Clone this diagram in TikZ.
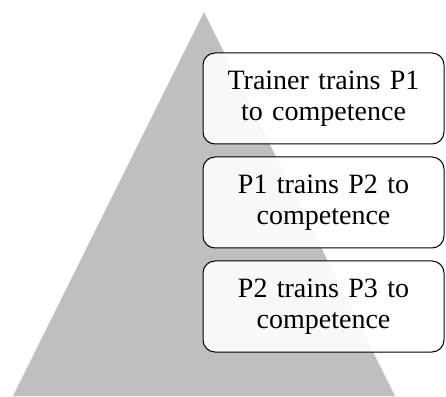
\documentclass[tikz,border=0pt]{standalone}
\usepackage{fontspec}
\setmainfont{Liberation Serif}
\usetikzlibrary{positioning}

\tikzset{
  stagebox/.style={draw=black,line width=1pt,rounded corners=12pt,
    fill=white,fill opacity=0.9,text opacity=1,
    minimum width=241pt,minimum height=91pt,text width=225pt,
    align=center,inner sep=2pt,outer sep=0pt}
}

\begin{document}
\begin{tikzpicture}[x=1pt,y=1pt,font=\fontsize{28}{31}\selectfont]

    \useasboundingbox (0,0) rectangle (446,396);

    % Pyramid
    \fill [black!25] (13,0) -- (204,384) -- (395,0) -- cycle;

    % Stages
    \node [stagebox] (trainer) at (323.5,297.5) {Trainer trains P1\\to competence};
    \node [stagebox,below=13pt of trainer] (pone) {P1 trains P2 to\\competence};
    \node [stagebox,below=13pt of pone] (ptwo) {P2 trains P3 to\\competence};

\end{tikzpicture}
\end{document}
